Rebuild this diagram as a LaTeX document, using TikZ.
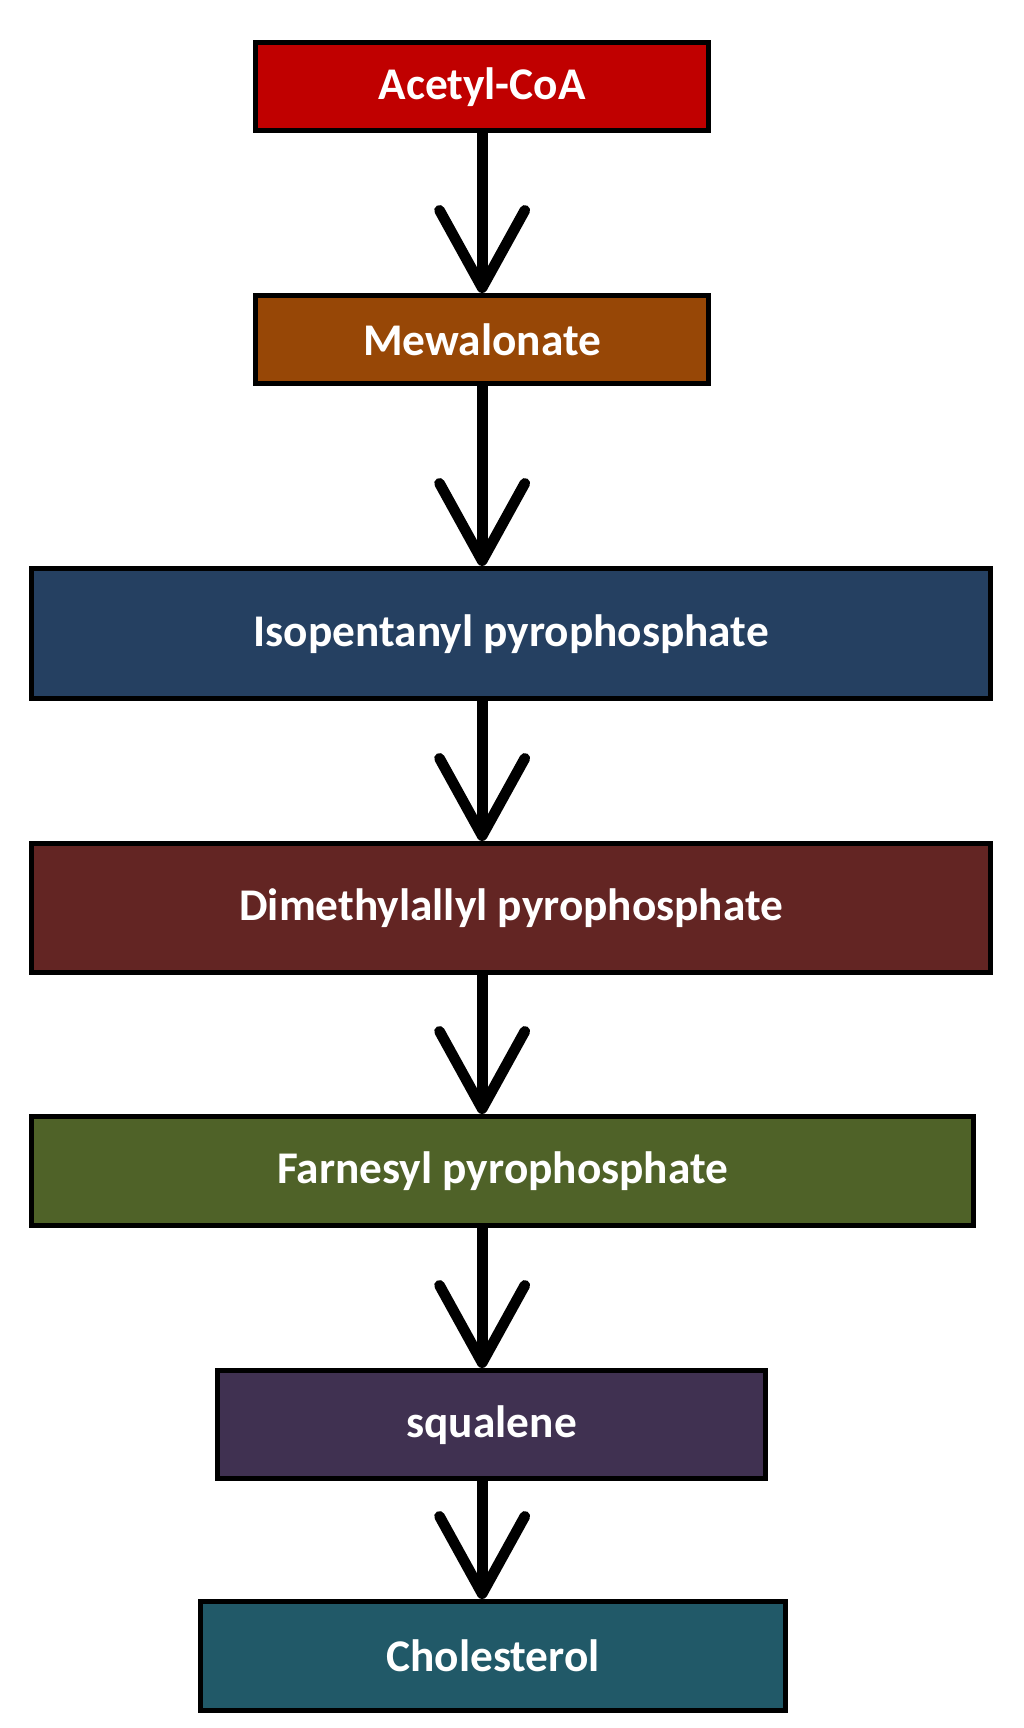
\documentclass[tikz,border=0pt]{standalone}
\usepackage{fontspec}
\setmainfont{Carlito}
\usetikzlibrary{arrows.meta,shapes}
\definecolor{acetyl}{HTML}{C00000}
\definecolor{mewal}{HTML}{974706}
\definecolor{isopen}{HTML}{254061}
\definecolor{dimeth}{HTML}{632523}
\definecolor{farnes}{HTML}{4F6228}
\definecolor{squal}{HTML}{403151}
\definecolor{chol}{HTML}{215968}
\begin{document}
\begin{tikzpicture}[x=0.75pt,y=-0.75pt,
box/.style={draw, line width=4pt, anchor=north west, inner sep=0pt,
text=white, font=\bfseries\fontsize{34}{40}\selectfont},
flow/.style={line width=8pt,
-{Straight Barb[length=58pt,width=64pt,line width=8pt,round]}}]
\useasboundingbox (0,0) rectangle (1024,1728);
\node (acetyl) [box, fill=acetyl, minimum width=453*0.75pt, minimum height=88*0.75pt] at (253,40) {Acetyl-CoA};
\node (mewal) [box, fill=mewal, minimum width=453*0.75pt, minimum height=88*0.75pt] at (253,293) {Mewalonate};
\node (isopen) [box, fill=isopen, minimum width=959*0.75pt, minimum height=130*0.75pt] at (29,566) {Isopentanyl pyrophosphate};
\node (dimeth) [box, fill=dimeth, minimum width=959*0.75pt, minimum height=129*0.75pt] at (29,841) {Dimethylallyl pyrophosphate};
\node (farnes) [box, fill=farnes, minimum width=942*0.75pt, minimum height=109*0.75pt] at (29,1114) {Farnesyl pyrophosphate};
\node (squal) [box, fill=squal, minimum width=548*0.75pt, minimum height=108*0.75pt] at (215,1368) {squalene};
\node (chol) [box, fill=chol, minimum width=585*0.75pt, minimum height=109*0.75pt] at (198,1599) {Cholesterol};

\foreach \u/\v in {acetyl/mewal, mewal/isopen, isopen/dimeth,
dimeth/farnes, farnes/squal, squal/chol}
\draw[flow] (acetyl.south |- \u.south) -- (acetyl.south |- \v.north);
\end{tikzpicture}
\end{document}
